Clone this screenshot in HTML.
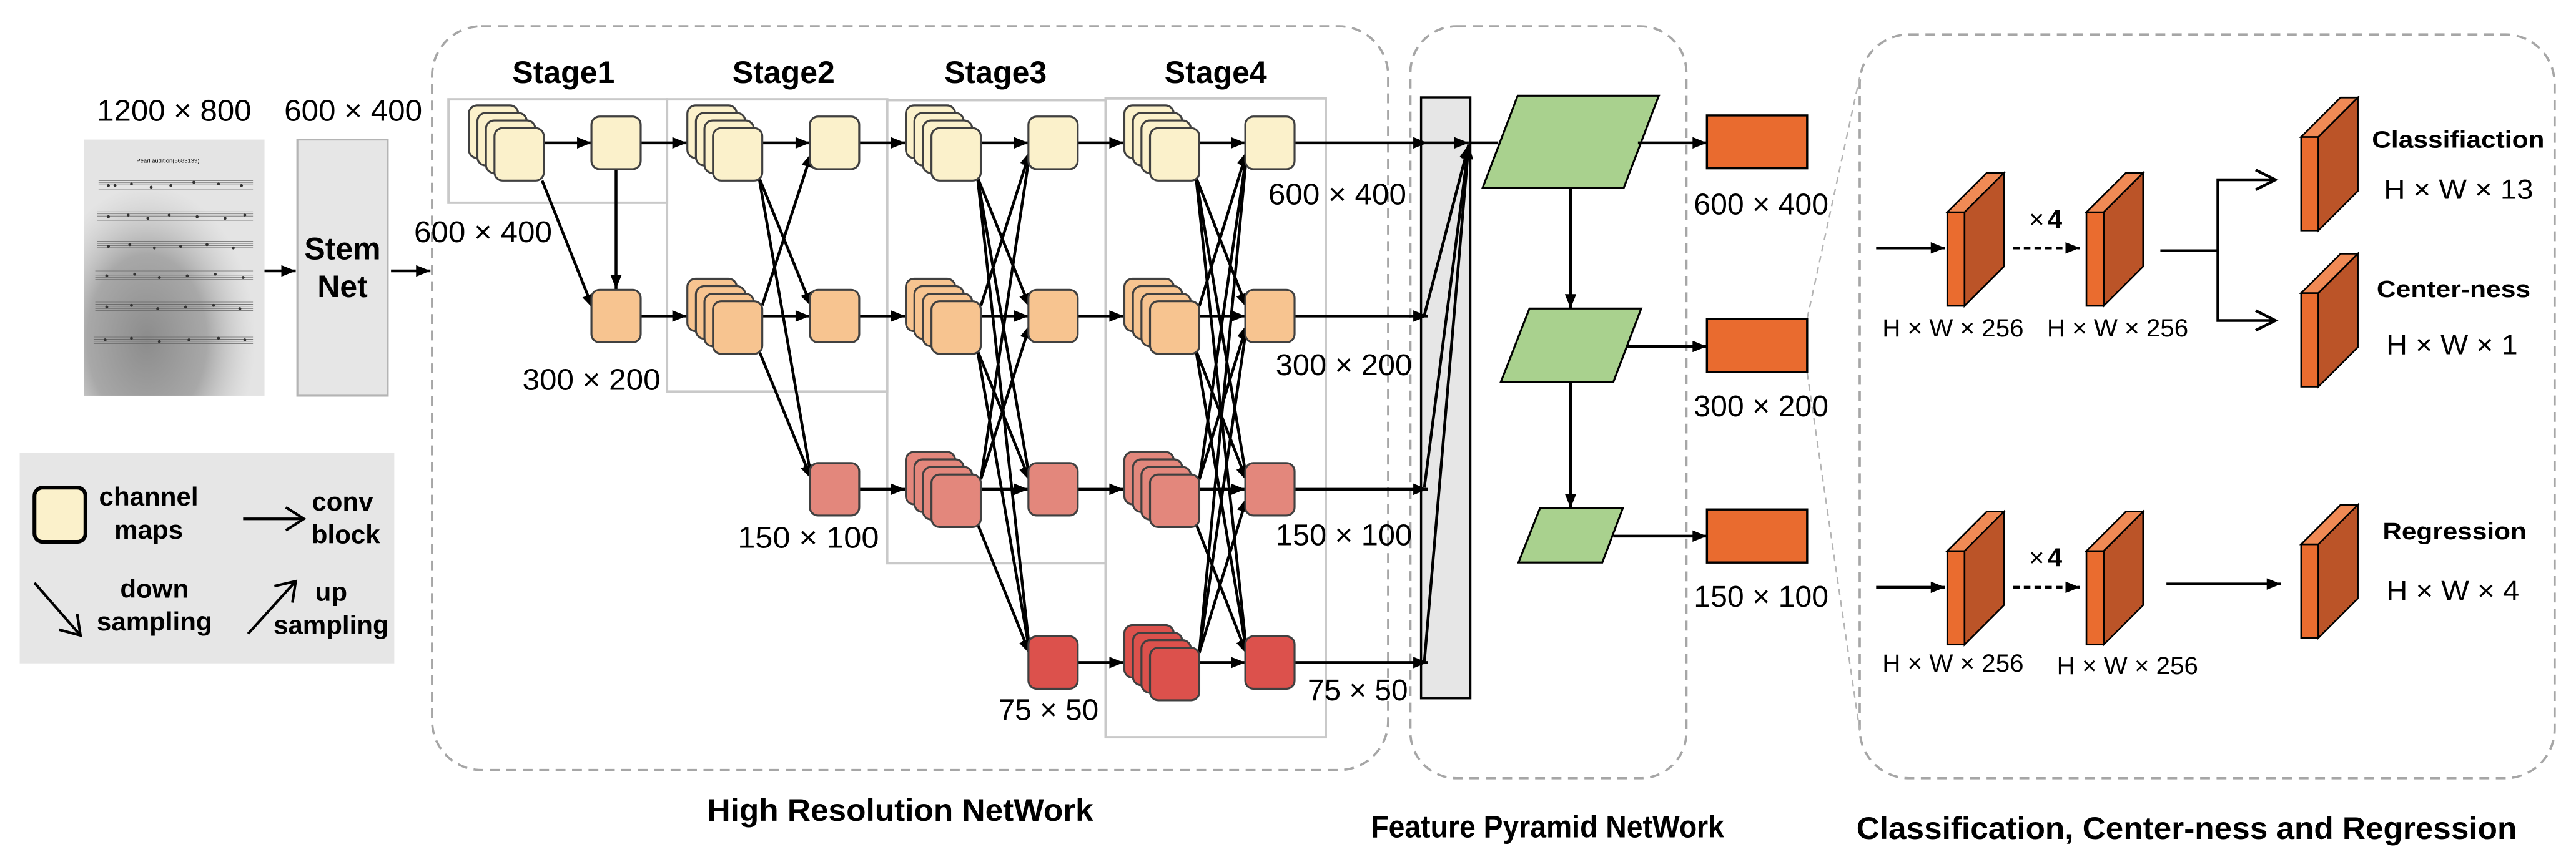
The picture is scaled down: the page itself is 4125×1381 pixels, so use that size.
<!DOCTYPE html>
<html><head><meta charset="utf-8"><style>
html,body{margin:0;padding:0;background:#fff;}
svg{display:block;}
text{font-family:"Liberation Sans",Arial,sans-serif;fill:#000;}
.b{font-weight:bold;}
.bx{stroke:#404040;stroke-width:1.2;}
.y{fill:#fbf1cb;} .p{fill:#f7c490;} .s{fill:#e3877c;} .r{fill:#dc514c;}
.ln{stroke:#000;stroke-width:1.7;fill:none;}
.stg{fill:none;stroke:#c9c9c9;stroke-width:1.5;}
.dash{fill:none;stroke:#a6a6a6;stroke-width:1.4;stroke-dasharray:6 4;}
</style></head><body>
<svg width="4125" height="1381" viewBox="0 0 1568 525" preserveAspectRatio="none" xmlns="http://www.w3.org/2000/svg">
<defs>
<marker id="a" viewBox="0 0 10 8" refX="10" refY="4" markerWidth="9" markerHeight="7" markerUnits="userSpaceOnUse" orient="auto"><path d="M0,0 L10,4 L0,8 z" fill="#000"/></marker>
<radialGradient id="sh" cx="0.35" cy="0.78" r="0.6"><stop offset="0" stop-color="#8c8c8c"/><stop offset="0.55" stop-color="#a8a8a8"/><stop offset="1" stop-color="#c8c8c8" stop-opacity="0"/></radialGradient>
<g id="blk"><rect x="0" y="0" width="10.5" height="57" fill="#ea6c2f" stroke="#000" stroke-width="1"/><path d="M0,0 L10.5,0 L34.5,-24 L24,-24 z" fill="#f08a55" stroke="#000" stroke-width="1"/><path d="M10.5,0 L34.5,-24 L34.5,33 L10.5,57 z" fill="#bb5428" stroke="#000" stroke-width="1"/></g>
</defs>

<text x="59" y="73.5" font-size="18.5" textLength="94" lengthAdjust="spacingAndGlyphs">1200 × 800</text>
<text x="173" y="73.5" font-size="18.5" textLength="84" lengthAdjust="spacingAndGlyphs">600 × 400</text>

<!-- photo -->
<rect x="51" y="85" width="110" height="156" fill="#e4e4e4"/>
<rect x="51" y="85" width="110" height="156" fill="url(#sh)"/>
<text x="83" y="99" font-size="3.6" font-family="Liberation Serif" fill="#333">Pearl audition(5683139)</text>
<g stroke="#666" stroke-width="0.3">
<path d="M60,110h94M60,111.3h94M60,112.6h94M60,113.9h94M60,115.2h94"/>
<path d="M59,129h95M59,130.3h95M59,131.6h95M59,132.9h95M59,134.2h95"/>
<path d="M59,147h95M59,148.3h95M59,149.6h95M59,150.9h95M59,152.2h95"/>
<path d="M58,165h96M58,166.3h96M58,167.6h96M58,168.9h96M58,170.2h96"/>
<path d="M58,184h96M58,185.3h96M58,186.6h96M58,187.9h96M58,189.2h96"/>
<path d="M57,204h97M57,205.3h97M57,206.6h97M57,207.9h97M57,209.2h97"/>
</g>
<g fill="#333">
<circle cx="66" cy="113" r="0.9"/><circle cx="70" cy="113" r="0.9"/><circle cx="80" cy="112" r="0.9"/><circle cx="92" cy="114" r="0.9"/><circle cx="104" cy="113" r="0.9"/><circle cx="118" cy="111" r="0.9"/><circle cx="133" cy="112" r="0.9"/><circle cx="147" cy="113" r="0.9"/>
<circle cx="66" cy="132" r="0.9"/><circle cx="78" cy="131" r="0.9"/><circle cx="90" cy="133" r="0.9"/><circle cx="103" cy="131" r="0.9"/><circle cx="120" cy="132" r="0.9"/><circle cx="137" cy="133" r="0.9"/><circle cx="149" cy="131" r="0.9"/>
<circle cx="66" cy="150" r="0.9"/><circle cx="79" cy="149" r="0.9"/><circle cx="94" cy="151" r="0.9"/><circle cx="110" cy="150" r="0.9"/><circle cx="126" cy="149" r="0.9"/><circle cx="142" cy="151" r="0.9"/>
<circle cx="65" cy="168" r="0.9"/><circle cx="82" cy="167" r="0.9"/><circle cx="97" cy="169" r="0.9"/><circle cx="114" cy="168" r="0.9"/><circle cx="131" cy="167" r="0.9"/><circle cx="148" cy="169" r="0.9"/>
<circle cx="65" cy="187" r="0.9"/><circle cx="80" cy="186" r="0.9"/><circle cx="96" cy="188" r="0.9"/><circle cx="113" cy="187" r="0.9"/><circle cx="130" cy="186" r="0.9"/><circle cx="146" cy="188" r="0.9"/>
<circle cx="64" cy="207" r="0.9"/><circle cx="80" cy="206" r="0.9"/><circle cx="97" cy="208" r="0.9"/><circle cx="115" cy="207" r="0.9"/><circle cx="133" cy="206" r="0.9"/><circle cx="149" cy="207" r="0.9"/>
</g>

<rect x="181" y="85" width="55" height="156" fill="#e6e6e6" stroke="#b4b4b4" stroke-width="1.2"/>
<text x="208.5" y="158" font-size="19" class="b" text-anchor="middle">Stem</text>
<text x="208.5" y="181" font-size="19" class="b" text-anchor="middle">Net</text>
<line x1="161" y1="165" x2="180" y2="165" class="ln" marker-end="url(#a)"/>
<line x1="238" y1="165" x2="262" y2="165" class="ln" marker-end="url(#a)"/>

<rect x="12" y="276" width="228" height="128" fill="#e6e6e6"/>
<rect x="21" y="297" width="31" height="33" rx="5" fill="#fbf1cb" stroke="#000" stroke-width="2.3"/>
<text x="90.5" y="308" font-size="16" class="b" text-anchor="middle">channel</text>
<text x="90.5" y="328" font-size="16" class="b" text-anchor="middle">maps</text>
<line x1="148" y1="316" x2="185" y2="316" stroke="#000" stroke-width="1.6"/>
<polyline points="174,309 185,316 174,323" fill="none" stroke="#000" stroke-width="1.6"/>
<text x="208.5" y="311" font-size="16" class="b" text-anchor="middle">conv</text>
<text x="210.5" y="331" font-size="16" class="b" text-anchor="middle">block</text>
<line x1="21" y1="355" x2="49" y2="387" stroke="#000" stroke-width="1.6"/>
<polyline points="36,383.5 49,387 47,374" fill="none" stroke="#000" stroke-width="1.6"/>
<text x="94" y="364" font-size="16" class="b" text-anchor="middle">down</text>
<text x="94" y="384" font-size="16" class="b" text-anchor="middle">sampling</text>
<line x1="151" y1="386" x2="180" y2="354" stroke="#000" stroke-width="1.6"/>
<polyline points="167,357 180,354 178,367" fill="none" stroke="#000" stroke-width="1.6"/>
<text x="201.6" y="366" font-size="16" class="b" text-anchor="middle">up</text>
<text x="201.6" y="386" font-size="16" class="b" text-anchor="middle">sampling</text>

<rect x="263" y="16" width="582" height="453" rx="30" class="dash"/>
<rect x="858.5" y="16" width="168" height="458" rx="28" class="dash"/>
<rect x="1132" y="21" width="423" height="453" rx="30" class="dash"/>
<line x1="1100" y1="194" x2="1132" y2="47" stroke="#b4b4b4" stroke-width="0.9" stroke-dasharray="4 3"/>
<line x1="1100" y1="227" x2="1132" y2="445" stroke="#b4b4b4" stroke-width="0.9" stroke-dasharray="4 3"/>

<rect x="273" y="60.5" width="133" height="63" class="stg"/>
<rect x="406" y="60.5" width="134" height="178" class="stg"/>
<rect x="540" y="61" width="133" height="282" class="stg"/>
<rect x="673" y="60" width="134" height="389" class="stg"/>
<text x="343" y="50.5" font-size="19" class="b" text-anchor="middle">Stage1</text>
<text x="477" y="50.5" font-size="19" class="b" text-anchor="middle">Stage2</text>
<text x="606" y="50.5" font-size="19" class="b" text-anchor="middle">Stage3</text>
<text x="740" y="50.5" font-size="19" class="b" text-anchor="middle">Stage4</text>

<g class="ln" marker-end="url(#a)">
<line x1="331" y1="87" x2="360" y2="87"/>
<line x1="375" y1="103" x2="375" y2="176"/>
<line x1="330" y1="110" x2="361" y2="188"/>
<line x1="390" y1="87" x2="418" y2="87"/>
<line x1="390" y1="192.5" x2="418" y2="192.5"/>
<line x1="464" y1="87" x2="493" y2="87"/>
<line x1="462" y1="108" x2="494" y2="187"/>
<line x1="462" y1="108" x2="494" y2="292"/>
<line x1="464" y1="186" x2="494" y2="93"/>
<line x1="464" y1="192.5" x2="493" y2="192.5"/>
<line x1="462" y1="213.5" x2="494" y2="292"/>
<line x1="523" y1="87" x2="551" y2="87"/>
<line x1="523" y1="192.5" x2="551" y2="192.5"/>
<line x1="523" y1="298" x2="551" y2="298"/>
<line x1="597" y1="87" x2="626" y2="87"/>
<line x1="595" y1="108" x2="627" y2="187.5"/>
<line x1="595" y1="108" x2="627" y2="293"/>
<line x1="595" y1="108" x2="627" y2="398.5"/>
<line x1="597" y1="186.5" x2="627" y2="92"/>
<line x1="597" y1="192.5" x2="626" y2="192.5"/>
<line x1="595" y1="213.5" x2="627" y2="293"/>
<line x1="595" y1="213.5" x2="627" y2="398.5"/>
<line x1="597" y1="292" x2="627" y2="92"/>
<line x1="597" y1="292" x2="627" y2="197.5"/>
<line x1="597" y1="298" x2="626" y2="298"/>
<line x1="595" y1="319" x2="627" y2="398.5"/>
<line x1="656" y1="87" x2="684" y2="87"/>
<line x1="656" y1="192.5" x2="684" y2="192.5"/>
<line x1="656" y1="298" x2="684" y2="298"/>
<line x1="656" y1="403.5" x2="684" y2="403.5"/>
<line x1="730" y1="87" x2="758" y2="87"/>
<line x1="728" y1="108" x2="759" y2="187.5"/>
<line x1="728" y1="108" x2="759" y2="293"/>
<line x1="728" y1="108" x2="759" y2="398.5"/>
<line x1="730" y1="186.5" x2="759" y2="92"/>
<line x1="730" y1="192.5" x2="758" y2="192.5"/>
<line x1="728" y1="213.5" x2="759" y2="293"/>
<line x1="728" y1="213.5" x2="759" y2="398.5"/>
<line x1="730" y1="292" x2="759" y2="92"/>
<line x1="730" y1="292" x2="759" y2="197.5"/>
<line x1="730" y1="298" x2="758" y2="298"/>
<line x1="728" y1="319" x2="759" y2="398.5"/>
<line x1="730" y1="397.5" x2="759" y2="92"/>
<line x1="730" y1="397.5" x2="759" y2="197.5"/>
<line x1="730" y1="397.5" x2="759" y2="303"/>
<line x1="730" y1="403.5" x2="758" y2="403.5"/>
</g>

<rect x="865" y="59.3" width="30" height="366" fill="#e6e6e6" stroke="#000" stroke-width="1.3"/>
<g class="ln" marker-end="url(#a)">
<line x1="788" y1="87" x2="869" y2="87"/>
<line x1="788" y1="192.5" x2="869" y2="192.5"/>
<line x1="788" y1="298" x2="869" y2="298"/>
<line x1="788" y1="403.5" x2="869" y2="403.5"/>
<line x1="869" y1="87" x2="894" y2="87"/>
<line x1="867" y1="192" x2="894" y2="88"/>
<line x1="867" y1="297" x2="894" y2="88"/>
<line x1="867" y1="403" x2="894" y2="88"/>
</g>
<line x1="894" y1="87" x2="912" y2="87" class="ln"/>

<g class="bx">
<rect class="y" x="285.4" y="64.2" width="30" height="32" rx="5"/>
<rect class="y" x="290.6" y="68.8" width="30" height="32" rx="5"/>
<rect class="y" x="295.8" y="73.4" width="30" height="32" rx="5"/>
<rect class="y" x="301" y="78" width="30" height="32" rx="5"/>
<rect class="y" x="360" y="71" width="30" height="32" rx="5"/>
<rect class="p" x="360" y="176.5" width="30" height="32" rx="5"/>
<rect class="y" x="418.4" y="64.2" width="30" height="32" rx="5"/>
<rect class="y" x="423.6" y="68.8" width="30" height="32" rx="5"/>
<rect class="y" x="428.8" y="73.4" width="30" height="32" rx="5"/>
<rect class="y" x="434" y="78" width="30" height="32" rx="5"/>
<rect class="p" x="418.4" y="169.7" width="30" height="32" rx="5"/>
<rect class="p" x="423.6" y="174.3" width="30" height="32" rx="5"/>
<rect class="p" x="428.8" y="178.9" width="30" height="32" rx="5"/>
<rect class="p" x="434" y="183.5" width="30" height="32" rx="5"/>
<rect class="y" x="493" y="71" width="30" height="32" rx="5"/>
<rect class="p" x="493" y="176.5" width="30" height="32" rx="5"/>
<rect class="s" x="493" y="282" width="30" height="32" rx="5"/>
<rect class="y" x="551.4" y="64.2" width="30" height="32" rx="5"/>
<rect class="y" x="556.6" y="68.8" width="30" height="32" rx="5"/>
<rect class="y" x="561.8" y="73.4" width="30" height="32" rx="5"/>
<rect class="y" x="567" y="78" width="30" height="32" rx="5"/>
<rect class="p" x="551.4" y="169.7" width="30" height="32" rx="5"/>
<rect class="p" x="556.6" y="174.3" width="30" height="32" rx="5"/>
<rect class="p" x="561.8" y="178.9" width="30" height="32" rx="5"/>
<rect class="p" x="567" y="183.5" width="30" height="32" rx="5"/>
<rect class="s" x="551.4" y="275.2" width="30" height="32" rx="5"/>
<rect class="s" x="556.6" y="279.8" width="30" height="32" rx="5"/>
<rect class="s" x="561.8" y="284.4" width="30" height="32" rx="5"/>
<rect class="s" x="567" y="289" width="30" height="32" rx="5"/>
<rect class="y" x="626" y="71" width="30" height="32" rx="5"/>
<rect class="p" x="626" y="176.5" width="30" height="32" rx="5"/>
<rect class="s" x="626" y="282" width="30" height="32" rx="5"/>
<rect class="r" x="626" y="387.5" width="30" height="32" rx="5"/>
<rect class="y" x="684.4" y="64.2" width="30" height="32" rx="5"/>
<rect class="y" x="689.6" y="68.8" width="30" height="32" rx="5"/>
<rect class="y" x="694.8" y="73.4" width="30" height="32" rx="5"/>
<rect class="y" x="700" y="78" width="30" height="32" rx="5"/>
<rect class="p" x="684.4" y="169.7" width="30" height="32" rx="5"/>
<rect class="p" x="689.6" y="174.3" width="30" height="32" rx="5"/>
<rect class="p" x="694.8" y="178.9" width="30" height="32" rx="5"/>
<rect class="p" x="700" y="183.5" width="30" height="32" rx="5"/>
<rect class="s" x="684.4" y="275.2" width="30" height="32" rx="5"/>
<rect class="s" x="689.6" y="279.8" width="30" height="32" rx="5"/>
<rect class="s" x="694.8" y="284.4" width="30" height="32" rx="5"/>
<rect class="s" x="700" y="289" width="30" height="32" rx="5"/>
<rect class="r" x="684.4" y="380.7" width="30" height="32" rx="5"/>
<rect class="r" x="689.6" y="385.3" width="30" height="32" rx="5"/>
<rect class="r" x="694.8" y="389.9" width="30" height="32" rx="5"/>
<rect class="r" x="700" y="394.5" width="30" height="32" rx="5"/>
<rect class="y" x="758" y="71" width="30" height="32" rx="5"/>
<rect class="p" x="758" y="176.5" width="30" height="32" rx="5"/>
<rect class="s" x="758" y="282" width="30" height="32" rx="5"/>
<rect class="r" x="758" y="387.5" width="30" height="32" rx="5"/>
</g>

<text x="252" y="147.5" font-size="18.5" textLength="84" lengthAdjust="spacingAndGlyphs">600 × 400</text>
<text x="318" y="237.5" font-size="18.5" textLength="84" lengthAdjust="spacingAndGlyphs">300 × 200</text>
<text x="449" y="333.5" font-size="18.5" textLength="86" lengthAdjust="spacingAndGlyphs">150 × 100</text>
<text x="607.7" y="438.5" font-size="18.5" textLength="61" lengthAdjust="spacingAndGlyphs">75 × 50</text>
<text x="772" y="124.5" font-size="18.5" textLength="84" lengthAdjust="spacingAndGlyphs">600 × 400</text>
<text x="776.5" y="228.5" font-size="18.5" textLength="83" lengthAdjust="spacingAndGlyphs">300 × 200</text>
<text x="776.5" y="332" font-size="18.5" textLength="83" lengthAdjust="spacingAndGlyphs">150 × 100</text>
<text x="796" y="426.5" font-size="18.5" textLength="61" lengthAdjust="spacingAndGlyphs">75 × 50</text>

<g stroke="#000" stroke-width="1.2" fill="#a9d18e">
<polygon points="923.8,58.3 1009.7,58.3 988.4,114.3 902.5,114.3"/>
<polygon points="931,187.9 999,187.9 982,232.7 913.5,232.7"/>
<polygon points="937.4,309.5 987.8,309.5 975.3,342.6 924.3,342.6"/>
</g>
<g class="ln" marker-end="url(#a)">
<line x1="956" y1="114.3" x2="956" y2="187.9"/>
<line x1="956" y1="232.7" x2="956" y2="309.5"/>
<line x1="997" y1="87" x2="1039" y2="87"/>
<line x1="990" y1="211" x2="1039" y2="211"/>
<line x1="982" y1="326.5" x2="1039" y2="326.5"/>
</g>
<g fill="#e96b2f" stroke="#000" stroke-width="1.3">
<rect x="1039" y="70.3" width="61" height="32.2"/>
<rect x="1039" y="194.3" width="61" height="32.3"/>
<rect x="1039" y="310.3" width="61" height="32.3"/>
</g>
<text x="1031" y="130.5" font-size="18.5" textLength="82" lengthAdjust="spacingAndGlyphs">600 × 400</text>
<text x="1031" y="253.5" font-size="18.5" textLength="82" lengthAdjust="spacingAndGlyphs">300 × 200</text>
<text x="1031" y="369.5" font-size="18.5" textLength="82" lengthAdjust="spacingAndGlyphs">150 × 100</text>

<use href="#blk" x="1185.3" y="129.3"/>
<use href="#blk" x="1270" y="129.3"/>
<use href="#blk" x="1185.3" y="335.6"/>
<use href="#blk" x="1270" y="335.6"/>
<use href="#blk" x="1400.7" y="83.4"/>
<use href="#blk" x="1400.7" y="178.5"/>
<use href="#blk" x="1400.7" y="331.5"/>
<g class="ln" marker-end="url(#a)">
<line x1="1142" y1="151" x2="1184" y2="151"/>
<line x1="1142" y1="357.7" x2="1184" y2="357.7"/>
<line x1="1225.4" y1="151" x2="1266" y2="151" stroke-dasharray="4 2.5"/>
<line x1="1225.4" y1="357.7" x2="1266" y2="357.7" stroke-dasharray="4 2.5"/>
<line x1="1318.7" y1="355.7" x2="1388.5" y2="355.7"/>
</g>
<polyline points="1315,152.7 1350,152.7" class="ln"/>
<polyline points="1385,109.5 1350,109.5 1350,195.2 1385,195.2" class="ln"/>
<polyline points="1373,103.5 1385,109.5 1373,115.5" class="ln"/>
<polyline points="1373,189.2 1385,195.2 1373,201.2" class="ln"/>
<text x="1235" y="139" font-size="16">×<tspan class="b" dx="2">4</tspan></text>
<text x="1235" y="345" font-size="16">×<tspan class="b" dx="2">4</tspan></text>
<text x="1145.8" y="205" font-size="15" textLength="86" lengthAdjust="spacingAndGlyphs">H × W × 256</text>
<text x="1246" y="205" font-size="15" textLength="86" lengthAdjust="spacingAndGlyphs">H × W × 256</text>
<text x="1145.8" y="409" font-size="15" textLength="86" lengthAdjust="spacingAndGlyphs">H × W × 256</text>
<text x="1252" y="410.5" font-size="15" textLength="86" lengthAdjust="spacingAndGlyphs">H × W × 256</text>
<text x="1443.8" y="90" font-size="14.5" class="b" textLength="105" lengthAdjust="spacingAndGlyphs">Classifiaction</text>
<text x="1451" y="121" font-size="17" textLength="91" lengthAdjust="spacingAndGlyphs">H × W × 13</text>
<text x="1446.7" y="181" font-size="14.5" class="b" textLength="93.6" lengthAdjust="spacingAndGlyphs">Center-ness</text>
<text x="1452.5" y="215.8" font-size="17" textLength="80" lengthAdjust="spacingAndGlyphs">H × W × 1</text>
<text x="1450.3" y="328.5" font-size="14.5" class="b" textLength="87.6" lengthAdjust="spacingAndGlyphs">Regression</text>
<text x="1452.5" y="365.5" font-size="17" textLength="81" lengthAdjust="spacingAndGlyphs">H × W × 4</text>

<text x="548" y="500" font-size="19" class="b" text-anchor="middle" textLength="235" lengthAdjust="spacingAndGlyphs">High Resolution NetWork</text>
<text x="942" y="510" font-size="19" class="b" text-anchor="middle" textLength="215" lengthAdjust="spacingAndGlyphs">Feature Pyramid NetWork</text>
<text x="1331" y="511" font-size="19" class="b" text-anchor="middle" textLength="402" lengthAdjust="spacingAndGlyphs">Classification, Center-ness and Regression</text>
</svg>
</body></html>
